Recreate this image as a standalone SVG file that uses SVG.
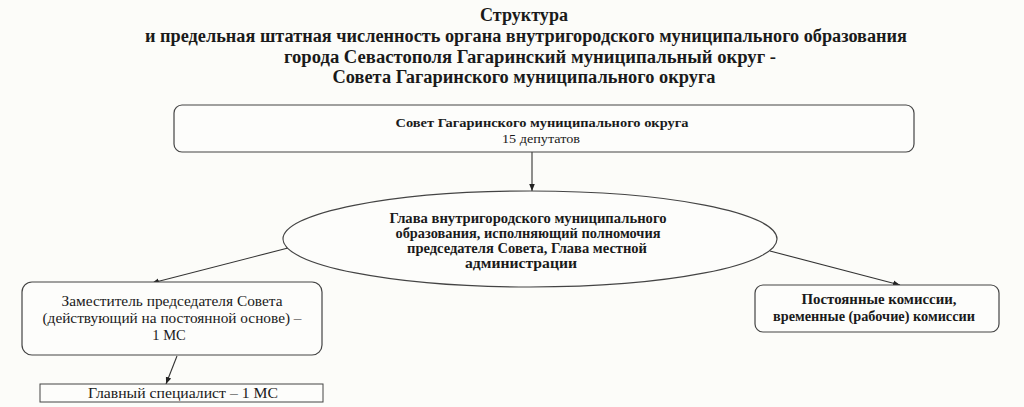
<svg xmlns="http://www.w3.org/2000/svg" width="1024" height="407" viewBox="0 0 1024 407">
<style>
.t{font-family:"Liberation Serif","Times New Roman",serif;fill:#1a1a1a;text-anchor:middle}
.b{font-weight:bold}
.box{fill:#fdfdfb;stroke:#444;stroke-width:1.2}
.ln{stroke:#333;stroke-width:1.1;fill:none;marker-end:url(#ah)}
</style>
<defs>
<marker id="ah" viewBox="0 0 10 10" refX="10" refY="5" markerWidth="7" markerHeight="7" orient="auto" markerUnits="userSpaceOnUse">
<path d="M0,1 L10,5 L0,9 Z" fill="#222"/>
</marker>
</defs>
<rect width="1024" height="407" fill="#fcfcf9"/>
<g id="title">
<text class="t b" x="524" y="21" font-size="18" textLength="88" lengthAdjust="spacingAndGlyphs">Структура</text>
<text class="t b" x="526" y="42" font-size="18" textLength="762" lengthAdjust="spacingAndGlyphs">и предельная штатная численность органа внутригородского муниципального образования</text>
<text class="t b" x="530" y="63" font-size="18" textLength="492" lengthAdjust="spacingAndGlyphs">города Севастополя Гагаринский муниципальный округ -</text>
<text class="t b" x="524" y="83" font-size="18" textLength="383" lengthAdjust="spacingAndGlyphs">Совета Гагаринского муниципального округа</text>
</g>
<g id="connectors">
<line class="ln" x1="532" y1="152" x2="532" y2="191"/>
<line class="ln" x1="288" y1="248" x2="152" y2="283"/>
<line class="ln" x1="770" y1="251" x2="900" y2="285"/>
<line class="ln" x1="177" y1="356" x2="166" y2="384"/>
</g>
<g id="sovet">
<rect class="box" x="174" y="105" width="740" height="47" rx="8"/>
<text class="t b" x="542" y="127" font-size="13" textLength="293" lengthAdjust="spacingAndGlyphs">Совет Гагаринского муниципального округа</text>
<text class="t" x="541" y="143" font-size="13" textLength="78" lengthAdjust="spacingAndGlyphs">15 депутатов</text>
</g>
<g id="glava">
<ellipse class="box" cx="530" cy="239" rx="247" ry="48"/>
<text class="t b" x="528" y="223" font-size="14" textLength="277" lengthAdjust="spacingAndGlyphs">Глава внутригородского муниципального</text>
<text class="t b" x="528" y="238" font-size="14" textLength="265" lengthAdjust="spacingAndGlyphs">образования, исполняющий полномочия</text>
<text class="t b" x="527" y="253" font-size="14" textLength="240" lengthAdjust="spacingAndGlyphs">председателя Совета, Глава местной</text>
<text class="t b" x="521" y="268" font-size="14" textLength="112" lengthAdjust="spacingAndGlyphs">администрации</text>
</g>
<g id="zam">
<rect class="box" x="22" y="282" width="300" height="73" rx="10"/>
<text class="t" x="172" y="306" font-size="14.5" textLength="221" lengthAdjust="spacingAndGlyphs">Заместитель председателя Совета</text>
<text class="t" x="172" y="323" font-size="14.5" textLength="259" lengthAdjust="spacingAndGlyphs">(действующий на постоянной основе) –</text>
<text class="t" x="169" y="340" font-size="14.5">1 МС</text>
</g>
<g id="specialist">
<rect x="40" y="384" width="283" height="18" fill="#fdfdfb" stroke="#444" stroke-width="1"/>
<text class="t" x="183" y="398" font-size="14.5" textLength="190" lengthAdjust="spacingAndGlyphs">Главный специалист – 1 МС</text>
</g>
<g id="komissii">
<rect class="box" x="755" y="285" width="244" height="47" rx="8"/>
<text class="t b" x="879" y="304" font-size="14" textLength="155" lengthAdjust="spacingAndGlyphs">Постоянные комиссии,</text>
<text class="t b" x="874" y="321" font-size="14" textLength="202" lengthAdjust="spacingAndGlyphs">временные (рабочие) комиссии</text>
</g>
</svg>
